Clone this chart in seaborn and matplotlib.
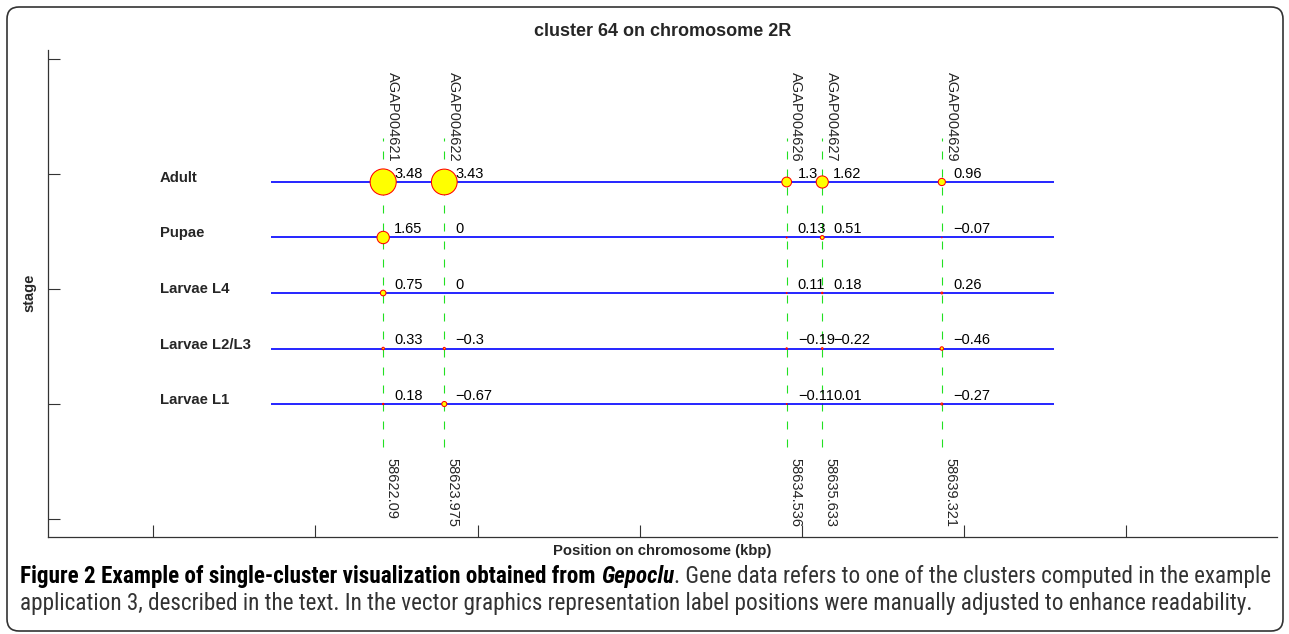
import numpy as np
import pandas as pd
import matplotlib
matplotlib.use("Agg")
import matplotlib.pyplot as plt
import seaborn as sns
from matplotlib.patches import FancyBboxPatch
from matplotlib.transforms import IdentityTransform
from matplotlib import font_manager

# ---- data -------------------------------------------------------------
genes = ["AGAP004621", "AGAP004622", "AGAP004626", "AGAP004627", "AGAP004629"]
positions = [58622.09, 58623.975, 58634.536, 58635.633, 58639.321]
position_labels = ["58622.09", "58623.975", "58634.536", "58635.633", "58639.321"]
stages = ["Adult", "Pupae", "Larvae L4", "Larvae L2/L3", "Larvae L1"]
adult = [3.48, 3.43, 1.3, 1.62, 0.96]
pupae = [1.65, 0, 0.13, 0.51, -0.07]
larvae_l4 = [0.75, 0, 0.11, 0.18, 0.26]
larvae_l2l3 = [0.33, -0.3, -0.19, -0.22, -0.46]
larvae_l1 = [0.18, -0.67, -0.11, 0.01, -0.27]
expression = [adult, pupae, larvae_l4, larvae_l2l3, larvae_l1]

title = "cluster 64 on chromosome 2R"
xlabel = "Position on chromosome (kbp)"
ylabel = "stage"

# long-form table: one row per (stage, gene)
records = []
for si, (stage, vals) in enumerate(zip(stages, expression)):
    row_y = len(stages) - si
    for gene, pos, v in zip(genes, positions, vals):
        records.append({"stage": stage, "gene": gene, "pos": pos,
                        "row": row_y, "value": v, "area": v * v})
df = pd.DataFrame(records)

# ---- style --------------------------------------------------------------
sns.set_style("white")
plt.rcParams["font.family"] = ["Liberation Sans", "DejaVu Sans"]

W, H = 1289, 634
fig = plt.figure(figsize=(W / 100, H / 100), dpi=100)
ax = fig.add_axes([48 / W, 1 - 537 / H, 1229 / W, 487 / H])

span = max(positions) - min(positions)
x_lo, x_hi = min(positions) - 0.6 * span, max(positions) + 0.6 * span
line_lo, line_hi = min(positions) - 0.2 * span, max(positions) + 0.2 * span
label_x = min(positions) - 0.4 * span

# gene guide lines
ax.vlines(positions, 0.225, 5.79, colors="#22e022", linewidth=0.8,
          linestyles=(0, (7.2, 9.0)), zorder=1)
# stage baselines
rows = list(range(len(stages), 0, -1))
ax.hlines(rows, line_lo, line_hi, colors="#0000ff", linewidth=1.2, zorder=2)

# expression markers, diameter proportional to |value|
vmax = df["value"].abs().max()
sns.scatterplot(data=df, x="pos", y="row", size="area",
                sizes=(0, (5.4 * vmax) ** 2), size_norm=(0, vmax ** 2),
                color="#ffff00", edgecolor="#ff0000", linewidth=0.75,
                legend=False, ax=ax, zorder=3)

# value labels
for _, r in df.iterrows():
    txt = f"{r['value']:g}".replace("-", "\u2212")
    ax.annotate(txt, (r["pos"], r["row"]), xytext=(8, 3),
                textcoords="offset points", ha="left", va="baseline",
                fontsize=10.5, color="black", zorder=4)

# stage names
for stage, y in zip(stages, rows):
    ax.text(label_x, y, stage, ha="left", va="baseline", fontsize=10.7,
            fontweight="bold")

# gene names (top) and positions (bottom)
for gene, pos, plab in zip(genes, positions, position_labels):
    ax.annotate(gene, (pos, 6.98), xytext=(2, 0), textcoords="offset points",
                rotation=-90, ha="left", va="top", fontsize=10.5)
    ax.annotate(plab, (pos, 0.027), xytext=(1, 0), textcoords="offset points",
                rotation=-90, ha="left", va="top", fontsize=10.5)

ax.set_xlim(x_lo, x_hi)
ax.set_ylim(-1.396, 7.378)
ax.set_xticks(np.arange(58615, 58646, 5))
ax.set_yticks(1 + 2.072 * np.arange(-1, 4))
ax.set_xlabel("")
ax.set_ylabel("")
ax.tick_params(direction="in", length=8.6, width=0.8, color="#333333",
               labelleft=False, labelbottom=False, left=True, bottom=True)
sns.despine(ax=ax)
for side in ("left", "bottom"):
    ax.spines[side].set_color("#333333")
    ax.spines[side].set_linewidth(0.9)

fig.text(662.5 / W, 1 - 31 / H, title, ha="center", va="center",
         fontsize=13, fontweight="bold")
fig.text(662.5 / W, 1 - 551 / H, xlabel, ha="center", va="center",
         fontsize=10.7, fontweight="bold")
fig.text(29 / W, 1 - 293 / H, ylabel, ha="center", va="center",
         rotation=90, fontsize=10.5, fontweight="bold")

# rounded panel frame
frame = FancyBboxPatch((7, 3), 1276, 624,
                       boxstyle="round,pad=0,rounding_size=12",
                       transform=IdentityTransform(), fill=False,
                       edgecolor="#333333", linewidth=1.2)
fig.add_artist(frame)

# caption
available = {f.name for f in font_manager.fontManager.ttflist}
cap_family = "Liberation Sans"
for cand in ["Liberation Sans Narrow", "Roboto Condensed", "Open Sans Condensed",
             "DejaVu Sans Condensed"]:
    if cand in available:
        cap_family = cand
        break

line1 = [("Figure 2 Example of single-cluster visualization obtained from ", "bold", "normal", "black"),
         ("Gepoclu", "bold", "italic", "black"),
         (". Gene data refers to one of the clusters computed in the example", "normal", "normal", "#333333")]
line2 = [("application 3, described in the text. In the vector graphics representation "
          "label positions were manually adjusted to enhance readability.", "normal", "normal", "#333333")]

renderer = fig.canvas.get_renderer()


def draw_line(parts, x0, y, size):
    x = x0
    arts = []
    for s, wgt, sty, col in parts:
        t = fig.text(x / W, 1 - y / H, s, ha="left", va="baseline",
                     fontsize=size, fontweight=wgt, fontstyle=sty, color=col,
                     family=cap_family)
        bb = t.get_window_extent(renderer=renderer)
        x += bb.width
        arts.append(t)
    return arts, x - x0


trial = 12.0
arts, width = draw_line(line1, 20, 583, trial)
for a in arts:
    a.remove()
cap_size = trial * 1255 / width
draw_line(line1, 20, 583, cap_size)
draw_line(line2, 20, 610, cap_size)

fig.savefig("out.png", dpi=100)
